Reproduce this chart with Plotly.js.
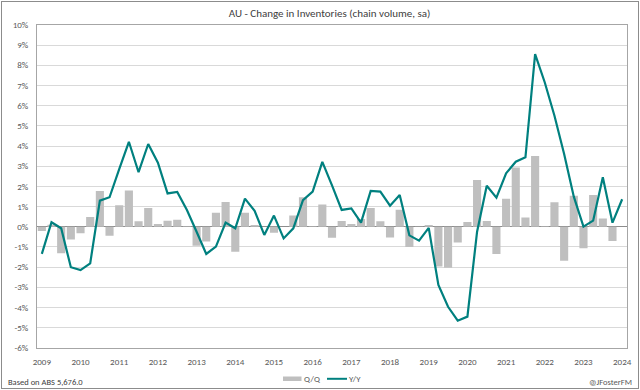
<!DOCTYPE html>
<html>
<head>
<meta charset="utf-8">
<script src="https://cdn.plot.ly/plotly-3.0.1.min.js"></script>
<style>
html,body{margin:0;padding:0;background:#fff;}
#wrap{position:relative;width:640px;height:390px;}
#chart{width:640px;height:390px;}
#frame{position:absolute;left:1px;top:1px;width:636px;height:386px;border:1px solid #8c8c8c;pointer-events:none;}
</style>
</head>
<body>
<div id="wrap"><div id="chart"></div><div id="frame"></div></div>
<script>
// Quarterly data, Mar-2009 .. Mar-2024 (61 quarters), % change
const yearLabels = ["2009","2010","2011","2012","2013","2014","2015","2016","2017","2018","2019","2020","2021","2022","2023","2024"];
const qq = [-0.22, 0.10, -1.32, -0.63, -0.33, 0.48, 1.77, -0.45, 1.06, 1.79,
            0.27, 0.93, 0.13, 0.30, 0.35, 0.02, -0.94, -0.74, 0.69, 1.22,
            -1.24, 0.69, 0.08, 0.00, -0.30, 0.00, 0.55, 1.46, 0.02, 1.10,
            -0.55, 0.28, 0.13, 0.38, 0.93, 0.27, -0.53, 0.84, -1.01, -0.02,
            0.08, -1.98, -2.03, -0.78, 0.23, 2.32, 0.28, -1.35, 1.39, 2.93,
            0.45, 3.50, 0.02, 1.21, -1.69, 1.54, -1.07, 1.57, 0.40, -0.71,
            0.00];
const yy = [-1.35, 0.22, -0.08, -2.01, -2.15, -1.82, 1.29, 1.46, 2.85, 4.21,
            2.70, 4.10, 3.17, 1.65, 1.72, 0.83, -0.25, -1.35, -0.99, 0.20,
            -0.08, 1.39, 0.79, -0.41, 0.55, -0.58, -0.08, 1.32, 1.74, 3.21,
            2.05, 0.83, 0.91, 0.20, 1.77, 1.74, 1.04, 1.57, -0.43, -0.69,
            -0.06, -2.89, -3.97, -4.66, -4.46, -0.25, 2.03, 1.44, 2.65, 3.22,
            3.44, 8.56, 7.15, 5.50, 3.60, 1.49, 0.00, 0.30, 2.45, 0.20,
            1.36];
const seriesNames = ["Q/Q", "Y/Y"];
const barColor = "#bfbfbf";
const lineColor = "#00807f";

const xIdx = qq.map((_, i) => i);
const tickVals = yearLabels.map((_, k) => k * 4);
const yTicks = [];
for (let v = -6; v <= 10; v++) yTicks.push(v);

const font = "Carlito, Lato, 'Open Sans', sans-serif";

const traces = [
  {type: "bar", name: seriesNames[0], x: xIdx, y: qq,
   marker: {color: barColor}, width: 0.84},
  {type: "scatter", mode: "lines", name: seriesNames[1], x: xIdx, y: yy,
   line: {color: lineColor, width: 2.2}}
];

// paper coords helpers (plot width 590, paper height 357, paper bottom at y=382)
const px = X => (X - 37) / 590;
const py = Y => (382 - Y) / 357;

const layout = {
  width: 640, height: 390,
  margin: {l: 37, r: 13, t: 25, b: 8},
  paper_bgcolor: "#fff", plot_bgcolor: "#fff",
  font: {family: font, size: 9, color: "#595959"},
  title: {text: "AU - Change in Inventories (chain volume, sa)",
          font: {family: font, size: 11, color: "#404040"},
          x: 0.515, xanchor: "center", y: 0.967, yanchor: "middle"},
  showlegend: false,
  xaxis: {range: [-0.5, 60.5], tickmode: "array", tickvals: tickVals, ticktext: yearLabels,
          showgrid: false, zeroline: false, showline: true, linecolor: "#a6a6a6", linewidth: 1,
          mirror: true, ticks: "", ticklabelstandoff: 5,
          tickfont: {size: 9, color: "#595959"}, fixedrange: true},
  yaxis: {domain: [py(347.7), 1], range: [-6, 10], tickmode: "array", tickvals: yTicks,
          ticktext: yTicks.map(v => v + "%"),
          showgrid: true, gridcolor: "#d9d9d9", gridwidth: 1,
          zeroline: true, zerolinecolor: "#8c8c8c", zerolinewidth: 1,
          showline: true, linecolor: "#a6a6a6", linewidth: 1, mirror: true,
          ticks: "", ticklabelstandoff: 6,
          tickfont: {size: 9, color: "#595959"}, fixedrange: true},
  shapes: [
    {type: "rect", xref: "paper", yref: "paper", x0: px(283), x1: px(301.5), y0: py(381), y1: py(376.5),
     fillcolor: barColor, line: {width: 0}},
    {type: "line", xref: "paper", yref: "paper", x0: px(327), x1: px(347), y0: py(378.8), y1: py(378.8),
     line: {color: lineColor, width: 2}}
  ],
  annotations: [
    {text: seriesNames[0], xref: "paper", yref: "paper", x: px(302), y: py(379), xanchor: "left", yanchor: "middle",
     showarrow: false, font: {family: font, size: 8.8, color: "#595959"}},
    {text: seriesNames[1], xref: "paper", yref: "paper", x: px(347), y: py(379), xanchor: "left", yanchor: "middle",
     showarrow: false, font: {family: font, size: 8.8, color: "#595959"}},
    {text: "Based on ABS 5,676.0", xref: "paper", yref: "paper", x: px(6), y: py(382.3),
     xanchor: "left", yanchor: "middle", showarrow: false, font: {family: font, size: 8.5, color: "#404040"}},
    {text: "@JFosterFM", xref: "paper", yref: "paper", x: px(634), y: py(382.3),
     xanchor: "right", yanchor: "middle", showarrow: false, font: {family: font, size: 8.5, color: "#595959"}}
  ]
};

Plotly.newPlot("chart", traces, layout, {displayModeBar: false, staticPlot: true});
</script>
</body>
</html>
